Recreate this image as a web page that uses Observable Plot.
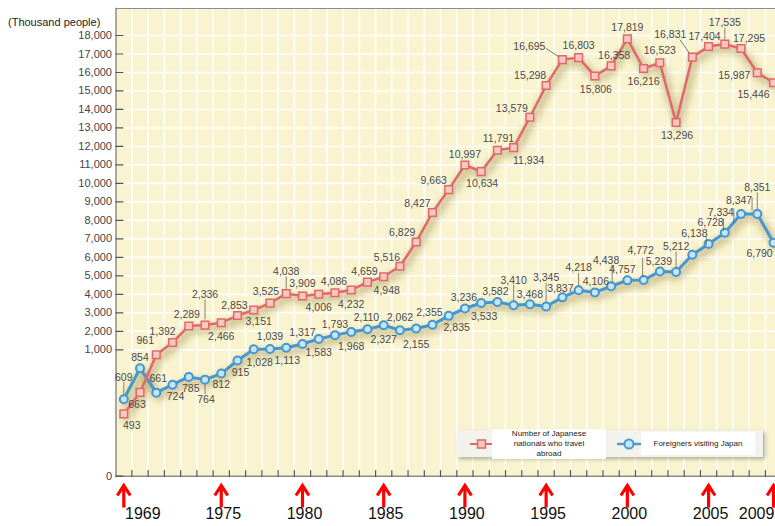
<!DOCTYPE html>
<html><head><meta charset="utf-8">
<script src="https://cdn.jsdelivr.net/npm/d3@7"></script>
<script src="https://cdn.jsdelivr.net/npm/@observablehq/plot@0.6"></script>
<style>
body{margin:0;background:#fff;font-family:"Liberation Sans",Arial,sans-serif;}
#wrap{position:relative;width:775px;height:526px;overflow:hidden;}
#legend{position:absolute;left:457px;top:430px;width:306px;height:27px;background:#f3f3ee;box-shadow:2px 2px 4px rgba(0,0,0,0.3);}
.lt{position:absolute;background:#fff;color:#222;font-size:8px;line-height:10px;text-align:center;display:flex;align-items:center;justify-content:center;}
.lm{position:absolute;}
</style></head><body><div id="wrap">
<div id="legend">
  <svg class="lm" style="left:13px;top:6px" width="23" height="16"><line x1="0" y1="8" x2="23" y2="8" stroke="#e06a6a" stroke-width="2"/><rect x="7.5" y="4" width="8" height="8" fill="#f7c6c0" stroke="#e06a6a" stroke-width="1.5"/></svg>
  <div class="lt" style="left:35px;top:-1px;width:114px;height:30px;">Number of Japanese<br>nationals who travel<br>abroad</div>
  <svg class="lm" style="left:160px;top:6px" width="24" height="16"><line x1="0" y1="8" x2="24" y2="8" stroke="#4a9ad0" stroke-width="2.5"/><circle cx="12" cy="8" r="4.5" fill="#c8e6f5" stroke="#4a9ad0" stroke-width="2"/></svg>
  <div class="lt" style="left:184px;top:2px;width:114px;height:23px;">Foreigners visiting Japan</div>
</div>
</div>
<script>
const years = [1969,1970,1971,1972,1973,1974,1975,1976,1977,1978,1979,1980,1981,1982,1983,1984,1985,1986,1987,1988,1989,1990,1991,1992,1993,1994,1995,1996,1997,1998,1999,2000,2001,2002,2003,2004,2005,2006,2007,2008,2009];
const japaneseAbroad = [493,663,961,1392,2289,2336,2466,2853,3151,3525,4038,3909,4006,4086,4232,4659,4948,5516,6829,8427,9663,10997,10634,11791,11934,13579,15298,16695,16803,15806,16358,17819,16216,16523,13296,16831,17404,17535,17295,15987,15446];
const foreignVisitors = [609,854,661,724,785,764,812,915,1028,1039,1113,1317,1583,1793,1968,2110,2327,2062,2155,2355,2835,3236,3533,3582,3410,3468,3345,3837,4218,4106,4438,4757,4772,5239,5212,6138,6728,7334,8347,8351,6790];
const yTicks = [0,1000,2000,3000,4000,5000,6000,7000,8000,9000,10000,11000,12000,13000,14000,15000,16000,17000,18000];
const arrowYears = [1969,1975,1980,1985,1990,1995,2000,2005,2009];
const yAxisTitle = "(Thousand people)";

// label placement (pixel offsets relative to each point)
const redOff = [[8,12],[-3,12],[-11,-14],[-10,-11],[-2,-11],[0,-30],[0,14],[-3,-10],[5,12],[-4,-11],[0,-22],[0,-12],[0,13],[-1,-11],[0,15],[-3,-11],[3,14],[-13,-9],[-14,-9],[-15,-9],[-15,-9],[0,-10],[1,12],[1,-12],[15,13],[-18,-9],[-16,-10],[-33,-13],[0,-12],[1,14],[3,-10],[0,-11],[0,13],[0,-12],[1,13],[-22,-22],[-4,-10],[0,-21],[8,-10],[-23,3],[-20,12]];
const redLead = {1974:[0,-25,0,-6],1979:[0,-17,0,-5],1996:[-16,-11,-4,-3],2004:[-12,-17,-3,-4],2006:[0,-16,0,-5]};
const blueOff = [[0,-22],[0,-11],[2,-14],[3,12],[2,12],[1,20],[0,11],[3,12],[6,13],[0,-12],[1,13],[0,-11],[0,14],[0,-11],[0,15],[-1,-12],[0,14],[0,-13],[0,16],[-3,-12],[8,12],[-1,-11],[3,14],[-2,-10],[0,-25],[0,-10],[0,-29],[-2,-9],[0,-23],[1,-11],[-5,-26],[-5,-11],[-3,-29],[-1,-10],[0,-25],[2,-21],[2,-21],[-4,-20],[-2,-13],[0,-26],[-14,11]];
const blueLead = {1969:[0,-17,0,-5],1974:[0,14,0,5],1993:[0,-20,0,-5],1995:[0,-23,0,-5],1997:[0,-17,0,-4],1999:[1,-21,1,-3],2001:[-1,-22,-1,-3],2003:[0,-20,0,-4],2004:[14,-18,14,-10],2005:[15,-25,15,-13],2006:[9,-24,9,-10],2007:[11,-16,11,-4],2008:[0,-21,0,-5]};

const red = years.map((year,i)=>({year, value: japaneseAbroad[i]}));
const blue = years.map((year,i)=>({year, value: foreignVisitors[i]}));
const gridYears = years.slice(0,-1).map(y=>y+0.5);
const fmt = d3.format(",");

const lineShape = {draw(ctx, l){ ctx.moveTo(0,0); ctx.lineTo(0,-l); }};
const arrowShape = {draw(ctx, l){ ctx.moveTo(0,0); ctx.lineTo(0,-l); ctx.moveTo(-6.5,-l+10); ctx.lineTo(0,-l); ctx.lineTo(6.5,-l+10); }};

const RED = "#e26868", RED_FILL = "#f8c9c3", BLUE = "#4497cf", BLUE_FILL = "#c6e5f6";

const marks = [
  Plot.frame({fill: "#f9f4cf", stroke: null}),
  Plot.ruleX(gridYears, {x: d=>d, stroke: "#fff", strokeWidth: 1.6, strokeOpacity: 0.95}),
  Plot.ruleY(yTicks.filter(d=>d>=1000), {y: d=>d, stroke: "#fff", strokeWidth: 1.6, strokeOpacity: 0.95}),
  Plot.frame({anchor: "top", stroke: "#8c8c8c", strokeWidth: 1}),
  Plot.frame({anchor: "left", stroke: "#8c8c8c", strokeWidth: 1.5}),
  Plot.ruleY([0], {y: d=>d, stroke: "#8c8c8c", strokeWidth: 1.5}),
  Plot.vector(yTicks, {y: d=>d, frameAnchor: "left", rotate: 90, length: 7, anchor: "start", shape: lineShape, stroke: "#555", strokeWidth: 1.2}),
  Plot.vector(gridYears, {x: d=>d, frameAnchor: "bottom", length: 6, anchor: "start", shape: lineShape, stroke: "#555", strokeWidth: 1.2}),
  Plot.text(yTicks, {y: d=>d, frameAnchor: "left", dx: -4, textAnchor: "end", text: d=>fmt(d), fontSize: 11, fill: "#444"}),
  Plot.text([yAxisTitle], {frameAnchor: "top-left", dx: -108, dy: 10, textAnchor: "start", text: d=>d, fontSize: 11, fill: "#222"}),
  // shadows
  Plot.line(blue, {x: "year", y: "value", stroke: "#9a8440", strokeOpacity: 0.4, strokeWidth: 9, dx: 2, dy: 4, imageFilter: "blur(3px)"}),
  Plot.line(red, {x: "year", y: "value", stroke: "#9a8440", strokeOpacity: 0.4, strokeWidth: 9, dx: 2, dy: 4, imageFilter: "blur(3px)"}),
  Plot.line(blue, {x: "year", y: "value", stroke: BLUE, strokeWidth: 3}),
  Plot.dot(blue, {x: "year", y: "value", r: 4, fill: BLUE_FILL, stroke: BLUE, strokeWidth: 2}),
  Plot.line(red, {x: "year", y: "value", stroke: RED, strokeWidth: 2.5}),
  Plot.dot(red, {x: "year", y: "value", symbol: "square", r: 4.3, fill: RED_FILL, stroke: RED, strokeWidth: 1.5}),
  // arrows and year labels
  Plot.vector(arrowYears, {x: d=>d, frameAnchor: "bottom", dy: 31, length: 22, anchor: "start", shape: arrowShape, stroke: "#ff0000", strokeWidth: 3.2, strokeLinejoin: "miter", strokeLinecap: "butt"}),
  Plot.text(arrowYears.filter(d=>d===1969), {x: d=>d, frameAnchor: "bottom", dy: 42, dx: 19, text: d=>String(d), fontSize: 16, fill: "#111"}),
  Plot.text(arrowYears.filter(d=>d!==1969 && d!==2009), {x: d=>d, frameAnchor: "bottom", dy: 42, dx: 2, text: d=>String(d), fontSize: 16, fill: "#111"}),
  Plot.text(arrowYears.filter(d=>d===2009), {x: d=>d, frameAnchor: "bottom", dy: 42, dx: -17, text: d=>String(d), fontSize: 16, fill: "#111"})
];

function addLabels(data, offs, leads) {
  data.forEach((d,i)=>{
    const [dx,dy] = offs[i];
    marks.push(Plot.text([d], {x: "year", y: "value", text: d=>fmt(d.value), dx, dy, fontSize: 10.5, fill: "#4a4a4a"}));
  });
  Object.entries(leads).forEach(([yr,[a1,b1,a2,b2]])=>{
    const d = data.find(e=>e.year===+yr);
    const len = Math.hypot(a1-a2, b1-b2);
    const rot = Math.atan2(a1-a2, -(b1-b2))*180/Math.PI;
    marks.push(Plot.vector([d], {x: "year", y: "value", dx: a2, dy: b2, length: len, rotate: rot, anchor: "start", shape: lineShape, stroke: "#666", strokeWidth: 0.8}));
  });
}
addLabels(blue, blueOff, blueLead);
addLabels(red, redOff, redLead);

const chart = Plot.plot({
  width: 775, height: 526,
  marginLeft: 115.5, marginRight: 0, marginTop: 8, marginBottom: 50,
  style: {fontFamily: "'Liberation Sans', Arial, sans-serif", background: "transparent"},
  x: {type: "linear", domain: [1968.52, 2009.12], axis: null},
  y: {type: "linear", domain: [0, 1000, 18000], range: [475.7, 349.3, 35], axis: null},
  marks
});
document.getElementById("wrap").prepend(chart);
</script>
</body></html>
